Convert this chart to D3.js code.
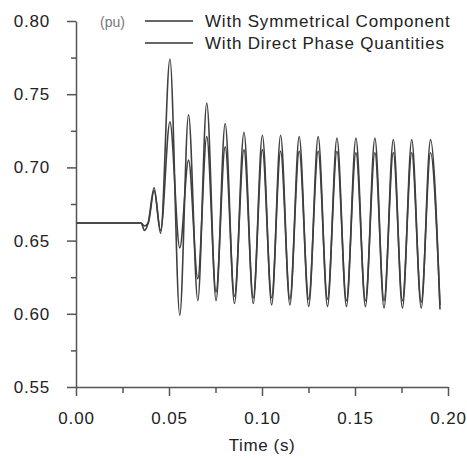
<!DOCTYPE html>
<html>
<head>
<meta charset="utf-8">
<script src="https://cdn.jsdelivr.net/npm/d3@7"></script>
<style>
  body { margin: 0; background: #fff; }
  svg { display: block; font-family: "Liberation Sans", Arial, sans-serif; }
  .axis path, .axis line { stroke: #555; stroke-width: 1.5; }
  .axis text { fill: #222; font-size: 17px; letter-spacing: 0.8px; }
  .linepath { fill: none; stroke: #404040; stroke-width: 1.6; }
</style>
</head>
<body>
<div class="container"></div>
<script>
const WIDTH = 467;
const HEIGHT = 458;
const X0 = 76, X1 = 448;
const Y0 = 387, Y1 = 21;

// time points (s), shared by both traces
const times = [0, 0.035, 0.0368, 0.0388, 0.042, 0.0455,
  0.0505, 0.0558, 0.0605, 0.0655, 0.0703, 0.0753, 0.0802, 0.0852, 0.0903, 0.0953,
  0.1002, 0.1052, 0.1100, 0.1150, 0.1200, 0.1251, 0.1302, 0.1352, 0.1403, 0.1454,
  0.1505, 0.1556, 0.1607, 0.1656, 0.1706, 0.1755, 0.1805, 0.1856, 0.1906, 0.1957];

const symValues = [0.662, 0.662, 0.660, 0.662, 0.684, 0.657,
  0.731, 0.645, 0.705, 0.624, 0.721, 0.615, 0.714, 0.612, 0.712, 0.611,
  0.712, 0.611, 0.711, 0.610, 0.711, 0.610, 0.711, 0.610, 0.711, 0.609,
  0.710, 0.609, 0.710, 0.609, 0.710, 0.609, 0.710, 0.608, 0.710, 0.606];

const directValues = [0.662, 0.662, 0.657, 0.662, 0.686, 0.655,
  0.774, 0.599, 0.736, 0.609, 0.744, 0.609, 0.730, 0.607, 0.724, 0.607,
  0.722, 0.606, 0.722, 0.606, 0.721, 0.605, 0.721, 0.605, 0.720, 0.605,
  0.720, 0.605, 0.720, 0.604, 0.719, 0.604, 0.719, 0.604, 0.719, 0.603];

const xMajor = [0, 0.05, 0.10, 0.15, 0.20];
const xMinor = [0.025, 0.075, 0.125, 0.175];
const yMajor = [0.55, 0.60, 0.65, 0.70, 0.75, 0.80];
const yMinor = [0.575, 0.625, 0.675, 0.725, 0.775];
const legendLabels = ["With Symmetrical Component", "With Direct Phase Quantities"];

var xScale = d3.scaleLinear().domain([0, 0.2]).range([X0, X1]);
var yScale = d3.scaleLinear().domain([0.55, 0.80]).range([Y0, Y1]);

var svg = d3.select('.container').append('svg')
    .attr('width', WIDTH)
    .attr('height', HEIGHT);

// axes
svg.append('g').attr('class', 'axis')
    .attr('transform', 'translate(' + X0 + ',0)')
    .call(d3.axisLeft(yScale).tickValues(yMajor).tickSize(9).tickSizeOuter(0)
        .tickPadding(17).tickFormat(d3.format('.2f')));
svg.append('g').attr('class', 'axis')
    .attr('transform', 'translate(' + X0 + ',0)')
    .call(d3.axisLeft(yScale).tickValues(yMinor).tickSize(5).tickSizeOuter(0).tickFormat(''))
    .select('.domain').remove();

svg.append('g').attr('class', 'axis')
    .attr('transform', 'translate(0,' + Y0 + ')')
    .call(d3.axisBottom(xScale).tickValues(xMajor).tickSize(9).tickSizeOuter(0)
        .tickPadding(16).tickFormat(d3.format('.2f')));
svg.append('g').attr('class', 'axis')
    .attr('transform', 'translate(0,' + Y0 + ')')
    .call(d3.axisBottom(xScale).tickValues(xMinor).tickSize(6).tickSizeOuter(0).tickFormat(''))
    .select('.domain').remove();

svg.append('text')
    .attr('x', xScale(0.1)).attr('y', 451)
    .attr('text-anchor', 'middle')
    .style('font-size', '17px').style('letter-spacing', '0.6px').attr('fill', '#222')
    .text('Time (s)');

// traces
var line = d3.line()
    .x(function(d){ return xScale(d[0]); })
    .y(function(d){ return yScale(d[1]); })
    .curve(d3.curveMonotoneX);

[symValues, directValues].forEach(function(vals){
    svg.append('path')
        .datum(times.map(function(t, i){ return [t, vals[i]]; }))
        .attr('class', 'linepath')
        .attr('d', line);
});

// legend
svg.append('text')
    .attr('x', 100).attr('y', 27)
    .style('font-size', '14px').attr('fill', '#777')
    .text('(pu)');

var leg = svg.append('g');
legendLabels.forEach(function(lbl, i){
    var y = 21 + i * 22;
    leg.append('line')
        .attr('x1', 145).attr('x2', 193).attr('y1', y).attr('y2', y)
        .attr('stroke', '#333').attr('stroke-width', 1.6);
    leg.append('text')
        .attr('x', 205).attr('y', y + 6)
        .style('font-size', '17px').style('letter-spacing', '0.8px').attr('fill', '#222')
        .text(lbl);
});
</script>
</body>
</html>
